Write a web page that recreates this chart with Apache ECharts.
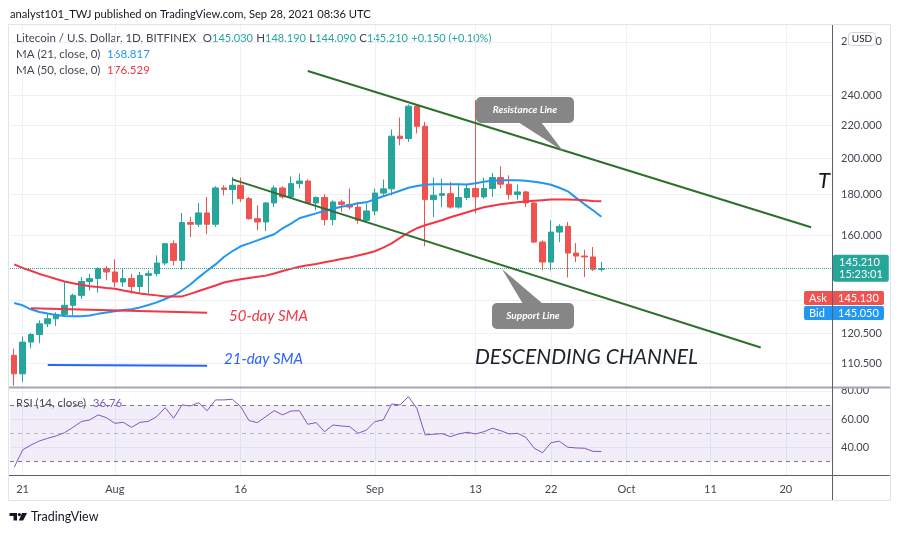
<!DOCTYPE html>
<html>
<head>
<meta charset="utf-8">
<title>LTCUSD 1D</title>
<script src="https://cdn.jsdelivr.net/npm/echarts@6/dist/echarts.min.js"></script>
<style>
  html, body { margin: 0; padding: 0; background: #fff; }
  #chart { width: 900px; height: 533px; }
</style>
</head>
<body>
<div id="chart"></div>
<script>
// daily candles Jul 20 .. Sep 28 2021, axis keeps going to Oct 25 like the tv chart
const dayCount = 98;
const opens = [113.1, 107.2, 117.5, 120.1, 123.9, 125.7, 127.3, 130.7, 134.5, 140.0,
  141.2, 145.3, 143.9, 139.8, 141.2, 138.0, 142.5, 143.2, 147.7, 156.2,
  148.8, 166.0, 165.2, 170.7, 165.2, 183.5, 182.6, 184.9, 177.9, 167.9,
  166.3, 175.7, 183.5, 178.8, 185.8, 187.2, 175.7, 178.5, 167.4, 176.2,
  175.0, 173.6, 167.1, 171.7, 180.8, 183.0, 213.1, 211.7, 232.4, 219.3,
  177.4, 179.6, 180.5, 173.6, 178.5, 183.2, 178.8, 183.2, 189.1, 185.5,
  180.0, 181.4, 175.7, 156.9, 148.1, 161.5, 164.2, 152.0, 150.7, 150.3, 145.03];
const highs = [115.3, 119.4, 120.6, 125.1, 127.6, 128.1, 139.8, 135.2, 141.8, 143.2,
  145.8, 146.3, 149.3, 145.3, 143.2, 143.9, 144.6, 151.0, 156.5, 157.7,
  170.7, 168.7, 175.7, 178.8, 184.4, 184.9, 189.4, 189.1, 178.8, 174.5,
  176.2, 184.9, 184.4, 189.8, 191.3, 188.0, 179.1, 180.2, 177.1, 177.4,
  183.2, 176.2, 175.4, 183.2, 188.0, 217.3, 224.9, 233.5, 233.8, 222.1,
  189.1, 188.5, 186.7, 185.8, 185.8, 236.5, 189.1, 191.6, 195.4, 190.3,
  185.5, 182.0, 176.2, 157.7, 167.1, 165.2, 166.3, 156.5, 153.5, 154.7, 148.19];
const lows = [103.6, 104.6, 115.4, 117.1, 122.7, 123.1, 126.5, 126.9, 133.2, 136.4,
  135.6, 140.5, 137.8, 137.8, 135.2, 135.2, 135.2, 142.1, 146.7, 146.7,
  144.9, 159.2, 163.9, 160.5, 163.9, 179.6, 175.0, 176.2, 167.4, 162.3,
  162.0, 173.6, 177.9, 177.9, 183.2, 175.4, 172.0, 164.7, 164.7, 171.2,
  172.4, 165.5, 166.0, 169.5, 178.8, 179.6, 207.6, 209.6, 214.8, 155.0,
  168.7, 173.6, 172.8, 172.8, 177.1, 170.4, 177.9, 178.8, 183.2, 177.4,
  177.4, 173.6, 156.5, 144.6, 144.6, 156.9, 141.6, 148.1, 141.8, 144.3, 144.09];
const closes = [107.2, 117.5, 120.1, 123.9, 125.7, 127.3, 130.7, 134.5, 140.0, 141.2,
  145.3, 143.9, 139.8, 141.2, 138.0, 142.5, 143.2, 147.7, 156.2, 148.8,
  166.0, 165.2, 170.7, 165.2, 183.5, 182.6, 184.9, 177.9, 167.9, 166.3,
  175.7, 183.5, 178.8, 185.8, 187.2, 175.7, 178.5, 167.4, 176.2, 175.0,
  173.6, 167.1, 171.7, 180.8, 183.0, 213.1, 211.7, 232.4, 219.3, 177.4,
  179.6, 180.5, 173.6, 178.5, 183.2, 178.8, 183.2, 189.1, 185.5, 180.0,
  181.4, 175.7, 156.9, 148.1, 161.5, 164.2, 152.0, 150.7, 150.3, 145.06, 145.21];

const ma21 = [131.6, 130.7, 129.2, 128.2, 127.6, 127.1, 126.7, 126.6, 126.6, 126.9,
  127.5, 128.0, 128.5, 128.9, 129.2, 129.9, 130.8, 131.8, 133.1, 134.5,
  136.4, 138.8, 141.7, 144.4, 147.1, 150.3, 152.8, 155.0, 156.3, 157.7,
  159.1, 160.5, 163.3, 165.5, 168.1, 169.3, 170.5, 171.8, 172.8, 173.8,
  174.5, 175.5, 176.0, 177.6, 179.1, 180.5, 182.0, 183.6, 184.5, 185.2,
  185.5, 185.5, 185.5, 185.4, 185.3, 186.0, 186.8, 187.3, 187.6, 187.6,
  187.6, 187.3, 186.8, 186.1, 185.2, 183.6, 181.7, 178.3, 175.0, 172.0, 168.817];
const ma50 = [147.1, 145.6, 144.4, 143.1, 142.1, 141.0, 140.0, 139.3, 138.7, 138.1,
  137.8, 137.4, 137.1, 136.4, 135.8, 135.2, 134.8, 134.5, 134.1, 134.1,
  134.1, 135.1, 136.2, 137.3, 138.4, 139.6, 140.3, 140.9, 141.4, 141.9,
  142.4, 143.3, 144.3, 145.2, 146.1, 146.7, 147.3, 148.0, 148.7, 149.4,
  150.1, 150.9, 151.8, 152.8, 154.4, 156.3, 158.8, 161.2, 163.3, 164.7,
  165.9, 167.1, 168.6, 169.8, 171.0, 172.3, 173.5, 174.3, 175.0, 175.5,
  176.0, 176.4, 176.8, 177.1, 177.4, 177.4, 177.4, 177.3, 177.1, 176.7, 176.529];
const rsi = [25.5, 37.9, 41.4, 44.3, 46.2, 47.9, 50.2, 54.0, 58.1, 59.3,
  62.9, 60.9, 56.9, 57.6, 54.0, 57.6, 58.3, 61.7, 68.1, 60.5,
  70.0, 69.3, 71.6, 65.9, 73.6, 73.6, 74.1, 68.8, 58.8, 57.4,
  61.7, 65.9, 62.9, 65.7, 65.9, 56.2, 57.4, 50.9, 55.7, 55.0,
  54.5, 49.8, 52.1, 58.1, 59.3, 70.7, 70.0, 75.9, 67.6, 48.6,
  49.1, 49.5, 47.4, 49.3, 50.5, 49.3, 50.9, 53.4, 51.6, 49.3,
  49.8, 46.9, 39.1, 35.9, 43.1, 44.1, 39.8, 39.3, 39.1, 36.9, 36.76];

const priceTicks = [280, 240, 220, 200, 180, 160, 132.5, 120.5, 110.5];
const rsiTicks = [40, 60, 80];
const dateTicks = ['2021-07-21', '2021-08-01', '2021-08-16', '2021-09-01', '2021-09-13',
  '2021-09-22', '2021-10-01', '2021-10-11', '2021-10-20'];
const dateTickLabels = ['21', 'Aug', '16', 'Sep', '13', '22', 'Oct', '11', '20'];

// hand drawn lines on the chart, [date, price]
const resistanceLine = [['2021-08-24', 257.3], ['2021-10-23', 163.8]];
const supportLine = [['2021-08-15', 188.1], ['2021-10-17', 115.7]];
const sma50Note = [['2021-07-22', 129.6], ['2021-08-12', 127.9]];
const sma21Note = [['2021-07-24', 110.0], ['2021-08-12', 109.7]];
const askPrice = 145.13, bidPrice = 145.05;

const dates = [];
for (let i = 0; i < dayCount; i++) {
    dates.push(new Date(Date.UTC(2021, 6, 20 + i)).toISOString().slice(0, 10));
}

// price pane is log scaled, so everything goes through ln()
const lg = Math.log;
const candles = opens.map((o, i) => [lg(o), lg(closes[i]), lg(lows[i]), lg(highs[i])]);
const last = closes.length - 1;
const chg = closes[last] - closes[last - 1];

const font = 'Lato, "Noto Sans", sans-serif';
const up = '#26a69a', down = '#ef5350';
const gridColor = '#edf0f4';
const textColor = '#434651';
const channelColor = '#2e6f2e';
const onDateTick = (idx, val) => dateTicks.indexOf(val) >= 0;

const drawn = (pts, color, width) => ([
    { coord: [pts[0][0], lg(pts[0][1])], lineStyle: { color: color, width: width, type: 'solid' } },
    { coord: [pts[1][0], lg(pts[1][1])] }
]);

const chart = echarts.init(document.getElementById('chart'));

const option = {
    animation: false,
    backgroundColor: '#fff',
    textStyle: { fontFamily: font },
    grid: [
        { left: 10, right: 68, top: 25, height: 362 },
        { left: 10, right: 68, top: 388, height: 87 }
    ],
    xAxis: [
        {
            type: 'category', gridIndex: 0, data: dates, boundaryGap: true,
            axisLine: { show: false }, axisTick: { show: false }, axisLabel: { show: false },
            splitLine: { show: true, interval: onDateTick, alignWithLabel: true, lineStyle: { color: gridColor } }
        },
        {
            type: 'category', gridIndex: 1, data: dates, boundaryGap: true,
            axisLine: { show: false }, axisTick: { show: false },
            axisLabel: {
                interval: onDateTick, color: textColor, fontSize: 11, margin: 9, fontFamily: font,
                formatter: v => dateTickLabels[dateTicks.indexOf(v)]
            },
            splitLine: { show: true, interval: onDateTick, alignWithLabel: true, lineStyle: { color: gridColor } }
        }
    ],
    yAxis: [
        {
            type: 'value', gridIndex: 0, position: 'right', min: lg(103.2), max: lg(293.9),
            axisLine: { show: false },
            axisTick: { show: false, customValues: priceTicks.map(lg) },
            axisLabel: {
                customValues: priceTicks.map(lg), color: textColor, fontSize: 11, margin: 9, fontFamily: font,
                formatter: v => Math.exp(v).toFixed(3)
            },
            splitLine: { lineStyle: { color: gridColor } }
        },
        {
            type: 'value', gridIndex: 1, position: 'right', min: 20, max: 82.1,
            axisLine: { show: false },
            axisTick: { show: false, customValues: rsiTicks },
            axisLabel: {
                customValues: rsiTicks, color: textColor, fontSize: 11, margin: 9, fontFamily: font,
                formatter: v => v.toFixed(2)
            },
            splitLine: { lineStyle: { color: gridColor } }
        }
    ],
    series: [
        {
            name: 'LTCUSD', type: 'candlestick', xAxisIndex: 0, yAxisIndex: 0,
            data: candles, barWidth: 6,
            itemStyle: { color: up, color0: down, borderColor: up, borderColor0: down, borderWidth: 1 },
            markLine: {
                silent: true, symbol: 'none', animation: false, z: 5,
                label: { show: false },
                data: [
                    {
                        yAxis: lg(closes[last]),
                        lineStyle: { color: up, type: 'dotted', width: 1 },
                        label: {
                            show: true, position: 'end', distance: 1,
                            formatter: closes[last].toFixed(3) + '\n15:23:01',
                            backgroundColor: up, color: '#fff', fontSize: 11, lineHeight: 12,
                            padding: [2, 6, 1, 6], borderRadius: 2, fontFamily: font
                        }
                    },
                    drawn(resistanceLine, channelColor, 2),
                    drawn(supportLine, channelColor, 2),
                    drawn(sma50Note, '#f23645', 2),
                    drawn(sma21Note, '#2962ff', 2)
                ]
            }
        },
        {
            name: 'MA 21', type: 'line', xAxisIndex: 0, yAxisIndex: 0, z: 3,
            data: ma21.map(lg), showSymbol: false, smooth: false,
            lineStyle: { color: '#2196f3', width: 2 }
        },
        {
            name: 'MA 50', type: 'line', xAxisIndex: 0, yAxisIndex: 0, z: 3,
            data: ma50.map(lg), showSymbol: false, smooth: false,
            lineStyle: { color: '#f23645', width: 2 }
        },
        {
            name: 'RSI', type: 'line', xAxisIndex: 1, yAxisIndex: 1,
            data: rsi, showSymbol: false,
            lineStyle: { color: '#7e57c2', width: 1 },
            markArea: {
                silent: true,
                itemStyle: { color: 'rgba(126,87,194,0.1)' },
                data: [[{ yAxis: 30 }, { yAxis: 70 }]]
            },
            markLine: {
                silent: true, symbol: 'none', label: { show: false },
                data: [
                    { yAxis: 70, lineStyle: { color: '#787b86', type: [4, 4], width: 1 } },
                    { yAxis: 50, lineStyle: { color: 'rgba(120,123,134,0.5)', type: [4, 4], width: 1 } },
                    { yAxis: 30, lineStyle: { color: '#787b86', type: [4, 4], width: 1 } }
                ]
            }
        }
    ],
    graphic: [
        // frame and pane separators
        { type: 'rect', shape: { x: 8.5, y: 24.5, width: 882, height: 476 }, style: { fill: 'none', stroke: '#e0e3eb', lineWidth: 1 }, silent: true },
        { type: 'rect', shape: { x: 834, y: 379, width: 56, height: 8 }, style: { fill: '#fff' }, silent: true, z: 9 },
        { type: 'line', shape: { x1: 9, y1: 387.5, x2: 890, y2: 387.5 }, style: { stroke: '#a3a6af', lineWidth: 2 }, silent: true, z: 10 },
        { type: 'line', shape: { x1: 9, y1: 475.5, x2: 890, y2: 475.5 }, style: { stroke: '#5d606b', lineWidth: 1 }, silent: true },

        // ask / bid tags
        { type: 'rect', shape: { x: 804, y: 291, width: 80, height: 14, r: 2 }, style: { fill: down }, z: 10 },
        { type: 'text', x: 809, y: 298, style: { text: 'Ask', fill: '#fff', font: '11px ' + font, verticalAlign: 'middle' }, z: 11 },
        { type: 'text', x: 838, y: 298, style: { text: askPrice.toFixed(3), fill: '#fff', font: '11px ' + font, verticalAlign: 'middle' }, z: 11 },
        { type: 'rect', shape: { x: 804, y: 306, width: 80, height: 14, r: 2 }, style: { fill: '#2196f3' }, z: 10 },
        { type: 'text', x: 809, y: 313, style: { text: 'Bid', fill: '#fff', font: '11px ' + font, verticalAlign: 'middle' }, z: 11 },
        { type: 'text', x: 838, y: 313, style: { text: bidPrice.toFixed(3), fill: '#fff', font: '11px ' + font, verticalAlign: 'middle' }, z: 11 },

        { type: 'line', shape: { x1: 832.5, y1: 25, x2: 832.5, y2: 500 }, style: { stroke: '#5d606b', lineWidth: 1 }, silent: true, z: 12 },

        // USD badge
        { type: 'rect', shape: { x: 848.5, y: 32.5, width: 27, height: 13, r: 3 }, style: { fill: '#fff', stroke: '#d1d4dc' }, z: 10 },
        { type: 'text', x: 862, y: 39, style: { text: 'USD', fill: '#131722', font: '10px ' + font, align: 'center', verticalAlign: 'middle' }, z: 11 },

        // header
        { type: 'text', x: 10, y: 14, style: { text: 'analyst101_TWJ published on TradingView.com, Sep 28, 2021 08:36 UTC', fill: '#131722', font: '11.2px ' + font, verticalAlign: 'middle' } },

        // legends
        {
            type: 'text', x: 16, y: 38,
            style: {
                text: '{t|Litecoin / U.S. Dollar, 1D, BITFINEX}  {t|O}{v|' + opens[last].toFixed(3) + '} {t|H}{v|' + highs[last].toFixed(3) +
                    '} {t|L}{v|' + lows[last].toFixed(3) + '} {t|C}{v|' + closes[last].toFixed(3) + '} {v|+' + chg.toFixed(3) +
                    ' (+' + (chg / closes[last - 1] * 100).toFixed(2) + '%)}',
                verticalAlign: 'middle',
                rich: {
                    t: { fill: textColor, font: '11.5px ' + font },
                    v: { fill: up, font: '11px ' + font }
                }
            }
        },
        {
            type: 'text', x: 16, y: 54,
            style: {
                text: '{t|MA (21, close, 0)}  {v|' + ma21[last].toFixed(3) + '}', verticalAlign: 'middle',
                rich: { t: { fill: textColor, font: '11.5px ' + font }, v: { fill: '#2196f3', font: '11.5px ' + font } }
            }
        },
        {
            type: 'text', x: 16, y: 70,
            style: {
                text: '{t|MA (50, close, 0)}  {v|' + ma50[last].toFixed(3) + '}', verticalAlign: 'middle',
                rich: { t: { fill: textColor, font: '11.5px ' + font }, v: { fill: '#f23645', font: '11.5px ' + font } }
            }
        },
        {
            type: 'text', x: 16, y: 403,
            style: {
                text: '{t|RSI (14, close)}  {v|' + rsi[last].toFixed(2) + '}', verticalAlign: 'middle',
                rich: { t: { fill: textColor, font: '11.5px ' + font }, v: { fill: '#7e57c2', font: '11.5px ' + font } }
            }
        },

        // drawing texts
        { type: 'text', x: 229, y: 316, style: { text: '50-day SMA', fill: '#f23645', font: 'italic 15px ' + font, verticalAlign: 'middle' }, z: 20 },
        { type: 'text', x: 224, y: 359, style: { text: '21-day SMA', fill: '#2962ff', font: 'italic 15px ' + font, verticalAlign: 'middle' }, z: 20 },
        { type: 'text', x: 475, y: 357, style: { text: 'DESCENDING CHANNEL', fill: '#1e222d', font: 'italic 21px ' + font, verticalAlign: 'middle' }, z: 20 },
        { type: 'text', x: 818, y: 181, style: { text: 'T', fill: '#131722', font: 'italic 22px ' + font, verticalAlign: 'middle' }, z: 20 },

        // callouts
        { type: 'polygon', shape: { points: [[518, 122], [541, 122], [563, 151]] }, style: { fill: '#868686' }, z: 20 },
        { type: 'rect', shape: { x: 476, y: 97, width: 98, height: 26, r: 5 }, style: { fill: '#868686' }, z: 20 },
        { type: 'text', x: 525, y: 110, style: { text: 'Resistance Line', fill: '#fff', font: 'italic bold 10px ' + font, align: 'center', verticalAlign: 'middle' }, z: 21 },
        { type: 'polygon', shape: { points: [[502, 269], [523, 304], [543, 304]] }, style: { fill: '#868686' }, z: 20 },
        { type: 'rect', shape: { x: 492, y: 303, width: 82, height: 26, r: 5 }, style: { fill: '#868686' }, z: 20 },
        { type: 'text', x: 533, y: 316, style: { text: 'Support Line', fill: '#fff', font: 'italic bold 10px ' + font, align: 'center', verticalAlign: 'middle' }, z: 21 },

        // tradingview logo
        { type: 'rect', shape: { x: 9.5, y: 513, width: 7.5, height: 3 }, style: { fill: '#131722' } },
        { type: 'rect', shape: { x: 13.5, y: 513, width: 3.5, height: 7.5 }, style: { fill: '#131722' } },
        { type: 'circle', shape: { cx: 19.4, cy: 514.6, r: 1.6 }, style: { fill: '#131722' } },
        { type: 'polygon', shape: { points: [[22, 513], [27, 513], [23.2, 520.5], [18.8, 520.5]] }, style: { fill: '#131722' } },
        { type: 'text', x: 31, y: 517, style: { text: 'TradingView', fill: '#131722', font: '12.5px ' + font, verticalAlign: 'middle' } }
    ]
};

chart.setOption(option);
</script>
</body>
</html>
